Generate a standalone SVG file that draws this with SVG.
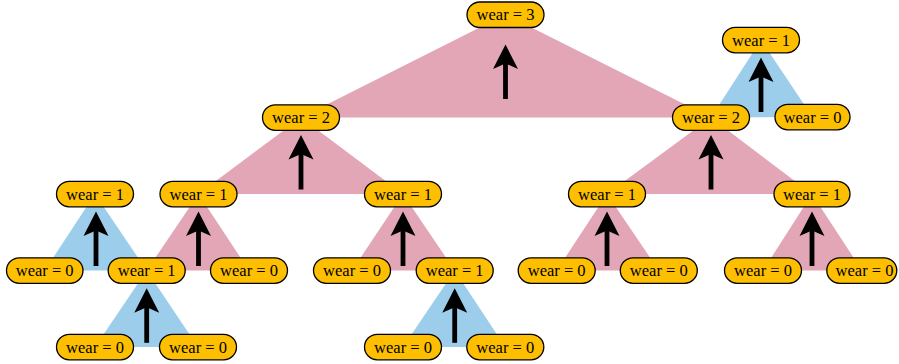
<svg xmlns="http://www.w3.org/2000/svg" xmlns:xlink="http://www.w3.org/1999/xlink" width="899" height="364" viewBox="0 0 899 364">
<style>
.pk{fill:#E3A6B6}
.bl{fill:#9CCEEB}
.nd rect{fill:#FEBF00;stroke:#000;stroke-width:1.3}
.nd text{font-family:"Liberation Serif","Times New Roman",serif;font-size:16.5px;fill:#000;text-anchor:middle}
</style>
<defs>
<g id="arr" fill="#000">
<rect x="-2.4" y="17" width="4.8" height="37.5"/>
<path d="M0,0 L12.5,24.5 L0,19 L-12.5,24.5 Z"/>
</g>
</defs>
<g id="connectors">
<polygon class="pk" points="505.5,14.5 301,117.5 711,117.5"/>
<polygon class="bl" points="761,40 711,117.5 812.5,117"/>
<polygon class="pk" points="301,117.5 198.5,194 403,194"/>
<polygon class="pk" points="711,117.5 607,194 812,194"/>
<polygon class="bl" points="95,194 44.7,270.5 146.7,270.5"/>
<polygon class="pk" points="198.5,194 146.7,270.5 249,270.5"/>
<polygon class="pk" points="403,194 352,270.5 454.7,270.5"/>
<polygon class="pk" points="607,194 556.7,270.5 658.8,270.5"/>
<polygon class="pk" points="812,194 763,270.5 862,270.5"/>
<polygon class="bl" points="146.7,270.5 95,347 198,347"/>
<polygon class="bl" points="454.7,270.5 403,347 505.3,347"/>
<use xlink:href="#arr" x="505.5" y="44.5"/>
<use xlink:href="#arr" x="761" y="57.5"/>
<use xlink:href="#arr" x="301" y="135"/>
<use xlink:href="#arr" x="711" y="135"/>
<use xlink:href="#arr" x="96" y="211.5"/>
<use xlink:href="#arr" x="198.5" y="211.5"/>
<use xlink:href="#arr" x="403" y="211.5"/>
<use xlink:href="#arr" x="607" y="211.5"/>
<use xlink:href="#arr" x="812" y="211.5"/>
<use xlink:href="#arr" x="146.7" y="288.3"/>
<use xlink:href="#arr" x="454.7" y="288.3"/>
</g>
<g id="n0" class="nd"><rect x="467" y="2" width="77" height="25.5" rx="12.75"/><text x="505.5" y="20.3">wear = 3</text></g>
<g id="n1" class="nd"><rect x="722.5" y="27.3" width="77" height="25.5" rx="12.75"/><text x="761" y="45.6">wear = 1</text></g>
<g id="n2" class="nd"><rect x="262.5" y="104.8" width="77" height="25.5" rx="12.75"/><text x="301" y="123.1">wear = 2</text></g>
<g id="n3" class="nd"><rect x="672.5" y="104.8" width="77" height="25.5" rx="12.75"/><text x="711" y="123.1">wear = 2</text></g>
<g id="n4" class="nd"><rect x="775" y="104.3" width="75" height="25.5" rx="12.75"/><text x="812.5" y="122.6">wear = 0</text></g>
<g id="n5" class="nd"><rect x="56.5" y="181.3" width="77" height="25.5" rx="12.75"/><text x="95" y="199.6">wear = 1</text></g>
<g id="n6" class="nd"><rect x="160" y="181.3" width="77" height="25.5" rx="12.75"/><text x="198.5" y="199.6">wear = 1</text></g>
<g id="n7" class="nd"><rect x="364.5" y="181.3" width="77" height="25.5" rx="12.75"/><text x="403" y="199.6">wear = 1</text></g>
<g id="n8" class="nd"><rect x="568.5" y="181.3" width="77" height="25.5" rx="12.75"/><text x="607" y="199.6">wear = 1</text></g>
<g id="n9" class="nd"><rect x="774" y="181.3" width="76" height="25.5" rx="12.75"/><text x="812" y="199.6">wear = 1</text></g>
<g id="n10" class="nd"><rect x="6.5" y="257.8" width="76.5" height="25.5" rx="12.75"/><text x="44.7" y="276.1">wear = 0</text></g>
<g id="n11" class="nd"><rect x="108.2" y="257.8" width="77" height="25.5" rx="12.75"/><text x="146.7" y="276.1">wear = 1</text></g>
<g id="n12" class="nd"><rect x="210.5" y="257.8" width="77" height="25.5" rx="12.75"/><text x="249" y="276.1">wear = 0</text></g>
<g id="n13" class="nd"><rect x="313.5" y="257.8" width="77" height="25.5" rx="12.75"/><text x="352" y="276.1">wear = 0</text></g>
<g id="n14" class="nd"><rect x="416.2" y="257.8" width="77" height="25.5" rx="12.75"/><text x="454.7" y="276.1">wear = 1</text></g>
<g id="n15" class="nd"><rect x="518.2" y="257.8" width="77" height="25.5" rx="12.75"/><text x="556.7" y="276.1">wear = 0</text></g>
<g id="n16" class="nd"><rect x="620.3" y="257.8" width="77" height="25.5" rx="12.75"/><text x="658.8" y="276.1">wear = 0</text></g>
<g id="n17" class="nd"><rect x="724.5" y="257.8" width="77" height="25.5" rx="12.75"/><text x="763" y="276.1">wear = 0</text></g>
<g id="n18" class="nd"><rect x="826.8" y="257.8" width="70" height="25.5" rx="12.75"/><text x="864.5" y="276.1">wear = 0</text></g>
<g id="n19" class="nd"><rect x="56.5" y="334.3" width="77" height="25.5" rx="12.75"/><text x="95" y="352.6">wear = 0</text></g>
<g id="n20" class="nd"><rect x="159.5" y="334.3" width="77" height="25.5" rx="12.75"/><text x="198" y="352.6">wear = 0</text></g>
<g id="n21" class="nd"><rect x="364.5" y="334.3" width="77" height="25.5" rx="12.75"/><text x="403" y="352.6">wear = 0</text></g>
<g id="n22" class="nd"><rect x="466.8" y="334.3" width="77" height="25.5" rx="12.75"/><text x="505.3" y="352.6">wear = 0</text></g>
</svg>
